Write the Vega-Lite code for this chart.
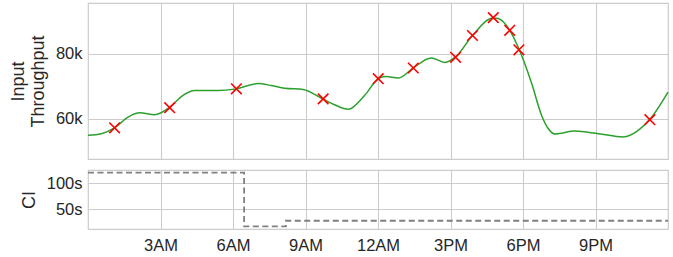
{
  "$schema": "https://vega.github.io/schema/vega-lite/v6.json",
  "padding": {"left": 8, "top": 2, "right": 6, "bottom": 2},
  "background": "white",
  "spacing": 8,
  "config": {
    "font": "Liberation Sans",
    "view": {"stroke": "#cccccc", "strokeWidth": 1.2},
    "axis": {
      "labelFont": "Liberation Sans",
      "titleFont": "Liberation Sans",
      "labelFontSize": 16.5,
      "titleFontSize": 18,
      "titleFontWeight": "normal",
      "labelColor": "#262626",
      "titleColor": "#262626",
      "gridColor": "#cccccc",
      "gridWidth": 1.1,
      "domain": false,
      "ticks": false,
      "labelPadding": 6
    }
  },
  "datasets": {
    "throughput": [
      {"h": 0.0, "v": 54900},
      {"h": 0.55, "v": 55400},
      {"h": 1.10, "v": 57200},
      {"h": 1.66, "v": 60500},
      {"h": 2.14, "v": 61800},
      {"h": 2.76, "v": 61200},
      {"h": 3.38, "v": 63500},
      {"h": 3.93, "v": 67200},
      {"h": 4.41, "v": 68700},
      {"h": 5.38, "v": 68700},
      {"h": 6.07, "v": 69100},
      {"h": 7.04, "v": 70800},
      {"h": 7.59, "v": 70200},
      {"h": 8.14, "v": 69400},
      {"h": 8.90, "v": 69000},
      {"h": 9.73, "v": 66000},
      {"h": 10.20, "v": 64300},
      {"h": 10.77, "v": 62900},
      {"h": 11.45, "v": 67200},
      {"h": 12.01, "v": 72300},
      {"h": 12.32, "v": 73000},
      {"h": 12.84, "v": 72500},
      {"h": 13.46, "v": 75600},
      {"h": 14.20, "v": 78700},
      {"h": 14.77, "v": 77300},
      {"h": 15.21, "v": 79000},
      {"h": 15.91, "v": 85600},
      {"h": 16.77, "v": 91000},
      {"h": 16.98, "v": 90800},
      {"h": 17.45, "v": 87200},
      {"h": 17.83, "v": 81500},
      {"h": 18.36, "v": 70800},
      {"h": 18.77, "v": 61000},
      {"h": 19.05, "v": 56900},
      {"h": 19.32, "v": 55300},
      {"h": 20.15, "v": 56200},
      {"h": 21.12, "v": 55400},
      {"h": 22.15, "v": 54400},
      {"h": 22.77, "v": 56400},
      {"h": 23.25, "v": 59800},
      {"h": 24.0, "v": 68200}
    ],
    "samples": [
      {"h": 1.10, "v": 57200},
      {"h": 3.38, "v": 63400},
      {"h": 6.14, "v": 69200},
      {"h": 9.73, "v": 66100},
      {"h": 12.01, "v": 72300},
      {"h": 13.46, "v": 75600},
      {"h": 15.21, "v": 78900},
      {"h": 15.91, "v": 85600},
      {"h": 16.77, "v": 91100},
      {"h": 17.45, "v": 87200},
      {"h": 17.83, "v": 81200},
      {"h": 23.25, "v": 59700}
    ],
    "ci": [
      {"h": 0.0, "ci": 120},
      {"h": 6.46, "ci": 17.3},
      {"h": 8.19, "ci": 28},
      {"h": 24.0, "ci": 28}
    ]
  },
  "vconcat": [
    {
      "width": 580,
      "height": 156,
      "encoding": {
        "x": {
          "field": "h",
          "type": "quantitative",
          "scale": {"domain": [0, 24], "nice": false, "zero": false},
          "axis": {"values": [3, 6, 9, 12, 15, 18, 21], "labels": false, "ticks": false, "domain": false, "title": null, "grid": true}
        },
        "y": {
          "field": "v",
          "type": "quantitative",
          "scale": {"domain": [47600, 95600], "nice": false, "zero": false},
          "axis": {
            "values": [60000, 80000],
            "labelExpr": "(datum.value / 1000) + 'k'",
            "title": ["Input", "Throughput"],
            "titleLineHeight": 20,
            "titlePadding": 8
          }
        }
      },
      "layer": [
        {
          "data": {"name": "throughput"},
          "mark": {"type": "line", "color": "#2ca02c", "strokeWidth": 1.5, "interpolate": "monotone"}
        },
        {
          "data": {"name": "samples"},
          "mark": {"type": "point", "shape": "M-1,-1L1,1M-1,1L1,-1", "size": 112, "filled": false, "stroke": "#ff0000", "strokeWidth": 1.6, "opacity": 1}
        }
      ]
    },
    {
      "width": 580,
      "height": 59,
      "data": {"name": "ci"},
      "mark": {"type": "line", "interpolate": "step-after", "color": "#808080", "strokeWidth": 1.8, "strokeDash": [6, 3.5]},
      "encoding": {
        "x": {
          "field": "h",
          "type": "quantitative",
          "scale": {"domain": [0, 24], "nice": false, "zero": false},
          "axis": {"values": [3, 6, 9, 12, 15, 18, 21], "labelExpr": "datum.value == 12 ? '12AM' : (datum.value < 12 ? datum.value + 'AM' : (datum.value - 12) + 'PM')", "title": null, "grid": true, "labelPadding": 8}
        },
        "y": {
          "field": "ci",
          "type": "quantitative",
          "scale": {"domain": [12.2, 125.1], "nice": false, "zero": false},
          "axis": {"values": [50, 100], "labelExpr": "datum.value + 's'", "title": "CI", "titlePadding": 8}
        }
      }
    }
  ]
}
